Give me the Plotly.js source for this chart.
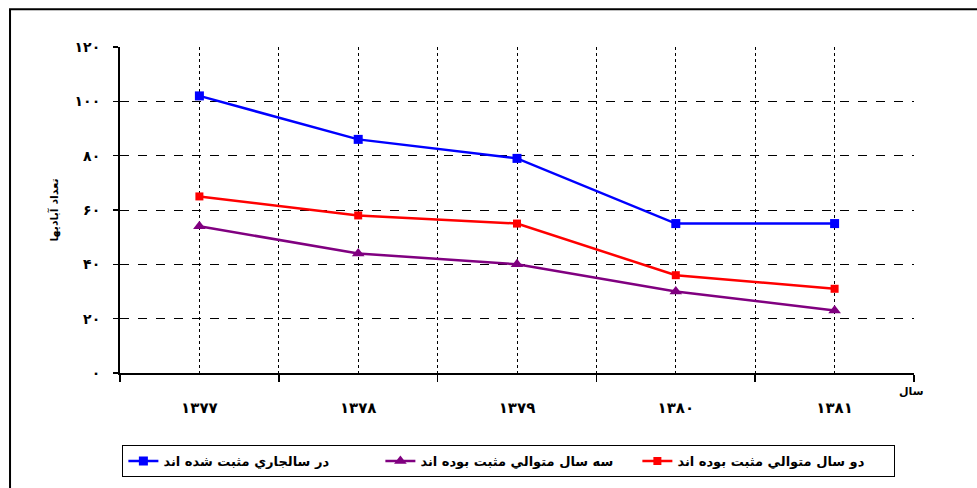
<!DOCTYPE html>
<html>
<head>
<meta charset="utf-8">
<script src="https://cdn.plot.ly/plotly-3.0.1.min.js"></script>
<style>html,body{margin:0;padding:0;background:#fff;}#chart{width:977px;height:488px;}</style>
</head>
<body>
<div id="chart"></div>
<script>
const years = ['۱۳۷۷', '۱۳۷۸', '۱۳۷۹', '۱۳۸۰', '۱۳۸۱'];
const seriesNames = ['در سالجاري مثبت شده اند', 'سه سال متوالي مثبت بوده اند', 'دو سال متوالي مثبت بوده اند'];
const currentYear = [102, 86, 79, 55, 55];
const threeYears = [54, 44, 40, 30, 23];
const twoYears = [65, 58, 55, 36, 31];
const yTickVals = [0, 20, 40, 60, 80, 100, 120];
const yTickText = ['۰', '۲۰', '۴۰', '۶۰', '۸۰', '۱۰۰', '۱۲۰'];
const yTitle = 'تعداد آبادیها';
const xTitle = 'سال';

const xIdx = years.map((_, i) => i);
const F = 'DejaVu Sans, Noto Sans, sans-serif';

const traces = [
  {x: xIdx, y: currentYear, name: seriesNames[0], mode: 'lines+markers',
   line: {color: '#0000FF', width: 2.5}, marker: {symbol: 'square', size: 9, color: '#0000FF'}},
  {x: xIdx, y: threeYears, name: seriesNames[1], mode: 'lines+markers',
   line: {color: '#800080', width: 2.5}, marker: {symbol: 'triangle-up', size: 11, color: '#800080'}},
  {x: xIdx, y: twoYears, name: seriesNames[2], mode: 'lines+markers',
   line: {color: '#FF0000', width: 2.5}, marker: {symbol: 'square', size: 8, color: '#FF0000'}}
];

const layout = {
  width: 977, height: 488,
  margin: {l: 120, r: 63, t: 47, b: 114},
  paper_bgcolor: '#fff', plot_bgcolor: '#fff',
  font: {family: F, size: 11, color: '#000'},
  showlegend: true,
  legend: {
    orientation: 'h', x: 0.003, xanchor: 'left', y: -0.217, yanchor: 'top',
    bordercolor: '#000', borderwidth: 1, bgcolor: '#fff',
    entrywidth: 212, font: {family: F, size: 13, color: '#000', weight: 'bold'}
  },
  xaxis: {
    range: [-0.5, 4.5], tickmode: 'array', tickvals: xIdx, ticktext: years,
    ticks: '', showline: true, linecolor: '#000', linewidth: 2,
    showgrid: true, gridcolor: '#000', gridwidth: 1, griddash: 'dot',
    zeroline: false, ticklabelstandoff: 20,
    tickfont: {family: F, size: 15, color: '#000', weight: 'bold'},
    minor: {tick0: 0.5, dtick: 1, ticks: 'outside', ticklen: 7, tickcolor: '#000', tickwidth: 1.5,
            showgrid: true, gridcolor: '#000', gridwidth: 1, griddash: 'dot'}
  },
  yaxis: {
    range: [0, 120], tickmode: 'array', tickvals: yTickVals, ticktext: yTickText,
    ticks: 'outside', ticklen: 5, tickcolor: '#000', tickwidth: 1.5,
    showline: true, linecolor: '#000', linewidth: 2,
    showgrid: true, gridcolor: '#000', gridwidth: 1, griddash: 'dash',
    zeroline: false, ticklabelstandoff: 10,
    tickfont: {family: F, size: 14, color: '#000', weight: 'bold'},
    title: {text: yTitle, standoff: 14, font: {family: F, size: 11, color: '#000', weight: 'bold'}}
  },
  annotations: [
    {text: xTitle, xref: 'paper', yref: 'paper', x: 0.997, y: -0.058, xanchor: 'center', yanchor: 'middle',
     showarrow: false, font: {family: F, size: 11, color: '#000', weight: 'bold'}}
  ],
  shapes: [
    {type: 'rect', xref: 'paper', yref: 'paper', x0: -0.1385, x1: 1.2, y0: -0.5, y1: 1.116,
     line: {color: '#000', width: 2}, fillcolor: 'rgba(0,0,0,0)', layer: 'below'}
  ]
};

Plotly.newPlot('chart', traces, layout, {displayModeBar: false, staticPlot: true});
</script>
</body>
</html>
